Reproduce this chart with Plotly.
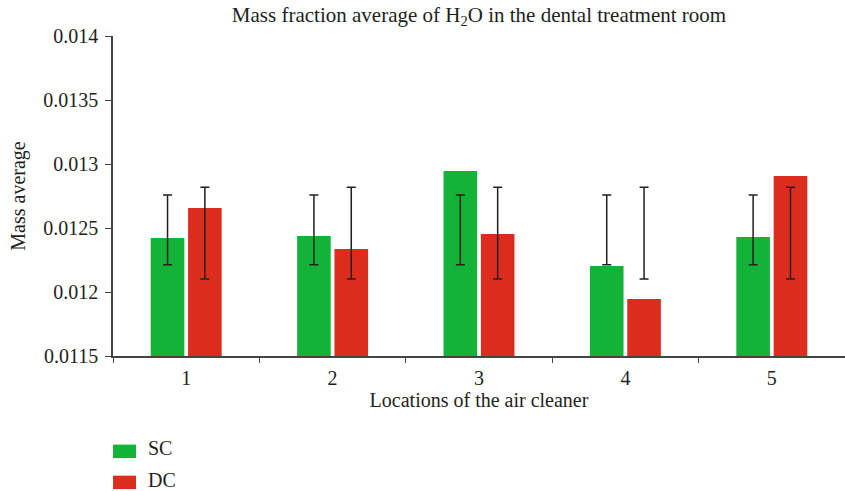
import plotly.graph_objects as go

# Mass fraction average of H2O per air-cleaner location
locations = ["1", "2", "3", "4", "5"]
series_names = ["SC", "DC"]
sc_values = [0.012422, 0.012438, 0.012945, 0.012203, 0.012430]
dc_values = [0.012656, 0.012336, 0.012453, 0.011945, 0.012906]

# Error ranges (centre and half-width) for each series
sc_err_center = [0.012485, 0.012485, 0.012485, 0.012485, 0.012485]
sc_err_half = [0.000273, 0.000273, 0.000273, 0.000273, 0.000273]
dc_err_center = [0.012460, 0.012460, 0.012460, 0.012460, 0.012460]
dc_err_half = [0.000358, 0.000358, 0.000358, 0.000358, 0.000358]

y_tick_vals = [0.0115, 0.012, 0.0125, 0.013, 0.0135, 0.014]
y_tick_text = ["0.0115", "0.012", "0.0125", "0.013", "0.0135", "0.014"]

GREEN = "#13b337"
RED = "#dc2c1d"
INK = "#231f20"
FONT = "Liberation Serif"
colors = [GREEN, RED]

fig = go.Figure()
for name, vals, col in zip(series_names, [sc_values, dc_values], colors):
    fig.add_trace(go.Bar(x=locations, y=vals, name=name, offsetgroup=name,
                         showlegend=False,
                         marker=dict(color=col, line=dict(width=0))))

# Error bars drawn on invisible bars sharing each series' slot
for center, half, grp in [(sc_err_center, sc_err_half, "SC"),
                          (dc_err_center, dc_err_half, "DC")]:
    fig.add_trace(go.Bar(
        x=locations, y=center, offsetgroup=grp, showlegend=False,
        hoverinfo="skip", marker=dict(color="rgba(0,0,0,0)", line=dict(width=0)),
        error_y=dict(type="data", array=half, visible=True,
                     color=INK, thickness=1.5, width=4.5),
    ))

# Legend keys below the plot: wide colour swatches with labels
key_w, key_top, key_h, key_step, label_dx = 0.0314, -0.277, 0.042, 0.097, 0.047
label_lift = 0.009
for i, (name, col) in enumerate(zip(series_names, colors)):
    top = key_top - i * key_step
    fig.add_shape(type="rect", xref="paper", yref="paper",
                  x0=0, x1=key_w, y0=top - key_h, y1=top,
                  fillcolor=col, line=dict(width=0))
    fig.add_annotation(xref="paper", yref="paper", x=label_dx,
                       y=top - key_h / 2 + label_lift,
                       text=name, showarrow=False, xanchor="left", yanchor="middle",
                       borderpad=0,
                       font=dict(family=FONT, size=20, color=INK))

fig.update_layout(
    width=845, height=491,
    margin=dict(l=113, r=0, t=36, b=135),
    paper_bgcolor="white", plot_bgcolor="white",
    barmode="group", bargap=0.49, bargroupgap=0.1,
    showlegend=False,
    font=dict(family=FONT, size=20, color=INK),
    title=dict(text="Mass fraction average of H<sub>2</sub>O in the dental treatment room",
               x=0.5, xref="paper", y=0.97, yanchor="middle",
               font=dict(family=FONT, size=21, color=INK)),
    xaxis=dict(
        title=dict(text="Locations of the air cleaner", standoff=5,
                   font=dict(size=20)),
        showline=True, linecolor="#444", linewidth=1.5,
        ticks="outside", ticklen=5, tickcolor="#444", tickwidth=1.2,
        tickson="boundaries", showgrid=False, zeroline=False,
        tickfont=dict(size=20), ticklabelstandoff=3,
    ),
    yaxis=dict(
        title=dict(text="Mass average", standoff=12, font=dict(size=20)),
        range=[0.0115, 0.014], tickvals=y_tick_vals, ticktext=y_tick_text,
        showline=True, linecolor="#444", linewidth=1.5,
        ticks="outside", ticklen=6, tickcolor="#444", tickwidth=1.2,
        showgrid=False, zeroline=False, tickfont=dict(size=20),
        ticklabelstandoff=3,
    ),
)

fig.write_html("out.html")
